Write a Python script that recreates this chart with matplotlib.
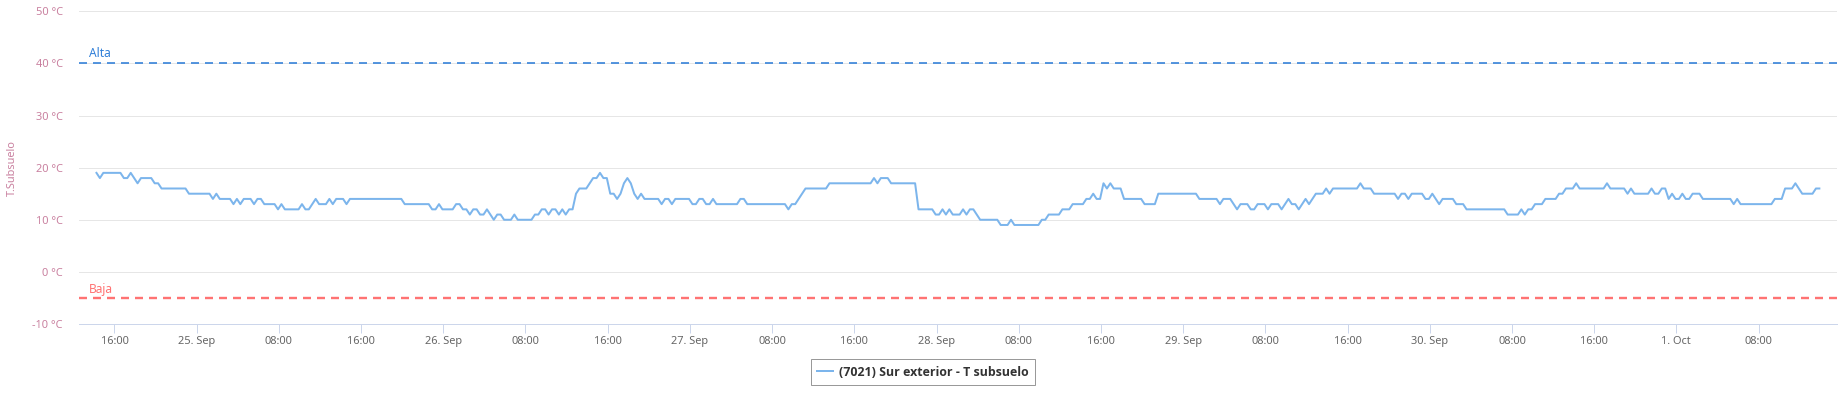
import matplotlib
matplotlib.use("Agg")
import matplotlib.pyplot as plt
import matplotlib.dates as mdates
import matplotlib.transforms as mtransforms
import pandas as pd

# soil temperature, one reading every 20 minutes
start_time = "2024-09-24 14:15"
sample_minutes = 20
temps = [
    19, 18, 19, 19, 19, 19, 19, 19, 18, 18, 19, 18, 17, 18, 18, 18, 18, 17, 17, 16, 16, 16, 16, 16,
    16, 16, 16, 15, 15, 15, 15, 15, 15, 15, 14, 15, 14, 14, 14, 14, 13, 14, 13, 14, 14, 14, 13, 14,
    14, 13, 13, 13, 13, 12, 13, 12, 12, 12, 12, 12, 13, 12, 12, 13, 14, 13, 13, 13, 14, 13, 14, 14,
    14, 13, 14, 14, 14, 14, 14, 14, 14, 14, 14, 14, 14, 14, 14, 14, 14, 14, 13, 13, 13, 13, 13, 13,
    13, 13, 12, 12, 13, 12, 12, 12, 12, 13, 13, 12, 12, 11, 12, 12, 11, 11, 12, 11, 10, 11, 11, 10,
    10, 10, 11, 10, 10, 10, 10, 10, 11, 11, 12, 12, 11, 12, 12, 11, 12, 11, 12, 12, 15, 16, 16, 16,
    17, 18, 18, 19, 18, 18, 15, 15, 14, 15, 17, 18, 17, 15, 14, 15, 14, 14, 14, 14, 14, 13, 14, 14,
    13, 14, 14, 14, 14, 14, 13, 13, 14, 14, 13, 13, 14, 13, 13, 13, 13, 13, 13, 13, 14, 14, 13, 13,
    13, 13, 13, 13, 13, 13, 13, 13, 13, 13, 12, 13, 13, 14, 15, 16, 16, 16, 16, 16, 16, 16, 17, 17,
    17, 17, 17, 17, 17, 17, 17, 17, 17, 17, 17, 18, 17, 18, 18, 18, 17, 17, 17, 17, 17, 17, 17, 17,
    12, 12, 12, 12, 12, 11, 11, 12, 11, 12, 11, 11, 11, 12, 11, 12, 12, 11, 10, 10, 10, 10, 10, 10,
    9, 9, 9, 10, 9, 9, 9, 9, 9, 9, 9, 9, 10, 10, 11, 11, 11, 11, 12, 12, 12, 13, 13, 13,
    13, 14, 14, 15, 14, 14, 17, 16, 17, 16, 16, 16, 14, 14, 14, 14, 14, 14, 13, 13, 13, 13, 15, 15,
    15, 15, 15, 15, 15, 15, 15, 15, 15, 15, 14, 14, 14, 14, 14, 14, 13, 14, 14, 14, 13, 12, 13, 13,
    13, 12, 12, 13, 13, 13, 12, 13, 13, 13, 12, 13, 14, 13, 13, 12, 13, 14, 13, 14, 15, 15, 15, 16,
    15, 16, 16, 16, 16, 16, 16, 16, 16, 17, 16, 16, 16, 15, 15, 15, 15, 15, 15, 15, 14, 15, 15, 14,
    15, 15, 15, 15, 14, 14, 15, 14, 13, 14, 14, 14, 14, 13, 13, 13, 12, 12, 12, 12, 12, 12, 12, 12,
    12, 12, 12, 12, 11, 11, 11, 11, 12, 11, 12, 12, 13, 13, 13, 14, 14, 14, 14, 15, 15, 16, 16, 16,
    17, 16, 16, 16, 16, 16, 16, 16, 16, 17, 16, 16, 16, 16, 16, 15, 16, 15, 15, 15, 15, 15, 16, 15,
    15, 16, 16, 14, 15, 14, 14, 15, 14, 14, 15, 15, 15, 14, 14, 14, 14, 14, 14, 14, 14, 14, 13, 14,
    13, 13, 13, 13, 13, 13, 13, 13, 13, 13, 14, 14, 14, 16, 16, 16, 17, 16, 15, 15, 15, 15, 16, 16,
]
series_name = "(7021) Sur exterior - T subsuelo"

alta = 40
baja = -5
y_ticks = [-10, 0, 10, 20, 30, 40, 50]
x_tick_times = pd.date_range("2024-09-24 16:00", "2024-10-01 08:00", freq="8h")
x_tick_labels = ["16:00", "25. Sep", "08:00", "16:00", "26. Sep", "08:00", "16:00",
                 "27. Sep", "08:00", "16:00", "28. Sep", "08:00", "16:00", "29. Sep",
                 "08:00", "16:00", "30. Sep", "08:00", "16:00", "1. Oct", "08:00"]
x_start = pd.Timestamp("2024-09-24 12:33")
x_end = pd.Timestamp("2024-10-01 15:38")

plt.rcParams["font.family"] = ["Noto Sans", "DejaVu Sans"]
plt.rcParams["lines.scale_dashes"] = False

W, H = 1849, 395
PT = 0.72  # points per pixel at dpi 100
axis_pink = "#c9809f"

times = pd.date_range(start_time, periods=len(temps), freq=f"{sample_minutes}min")

fig = plt.figure(figsize=(W / 100, H / 100), dpi=100)
ax = fig.add_axes([79 / W, 1 - 324 / H, (1837 - 79) / W, (324 - 11.3) / H])

line, = ax.plot(times, temps, color="#7cb5ec", lw=2 * PT, label=series_name,
                solid_joinstyle="round", zorder=3)

ax.axhline(alta, color="#2f7ed8", lw=1.6 * PT, dashes=(8 * PT, 6 * PT), zorder=2)
ax.axhline(baja, color="#ff7373", lw=2.4 * PT, dashes=(8 * PT, 6 * PT), zorder=2)
blend = mtransforms.blended_transform_factory(ax.transAxes, ax.transData)
ax.annotate("Alta", xy=(0, alta), xycoords=blend, xytext=(10, 6), textcoords="offset pixels",
            color="#2f7ed8", fontsize=12 * PT, va="baseline", ha="left")
ax.annotate("Baja", xy=(0, baja), xycoords=blend, xytext=(10, 5), textcoords="offset pixels",
            color="#ff7373", fontsize=12 * PT, va="baseline", ha="left")

ax.set_ylim(-10, 50)
ax.set_yticks(y_ticks)
ax.set_yticklabels([f"{v} °C" for v in y_ticks])
ax.tick_params(axis="y", length=0, pad=16 * PT, labelsize=11 * PT, labelcolor=axis_pink)
ax.grid(axis="y", color="#e6e6e6", lw=1 * PT)
ax.set_axisbelow(True)

ax.set_xlim(x_start, x_end)
ax.set_xticks(x_tick_times)
ax.set_xticklabels(x_tick_labels)
ax.tick_params(axis="x", length=9 * PT, width=1 * PT, color="#ccd6eb", pad=3 * PT,
               labelsize=11 * PT, labelcolor="#666666")

for side in ["top", "right", "left"]:
    ax.spines[side].set_visible(False)
ax.spines["bottom"].set_color("#ccd6eb")
ax.spines["bottom"].set_linewidth(1 * PT)

ax.set_ylabel("T.Subsuelo", color=axis_pink, fontsize=11 * PT, va="center")
ax.yaxis.set_label_coords((12 - 79) / (1837 - 79), 0.5)

leg = fig.legend(handles=[line], loc="center", bbox_to_anchor=(923 / W, 1 - 372 / H),
                 frameon=True, fancybox=False, edgecolor="#999999", framealpha=1,
                 prop={"family": ["Open Sans", "DejaVu Sans"], "weight": "bold",
                       "size": 12.4 * PT},
                 handlelength=1.3, handletextpad=0.45, borderpad=0.55,
                 labelcolor="#333333")
leg.get_frame().set_linewidth(1 * PT)

fig.savefig("out.png", dpi=100)
